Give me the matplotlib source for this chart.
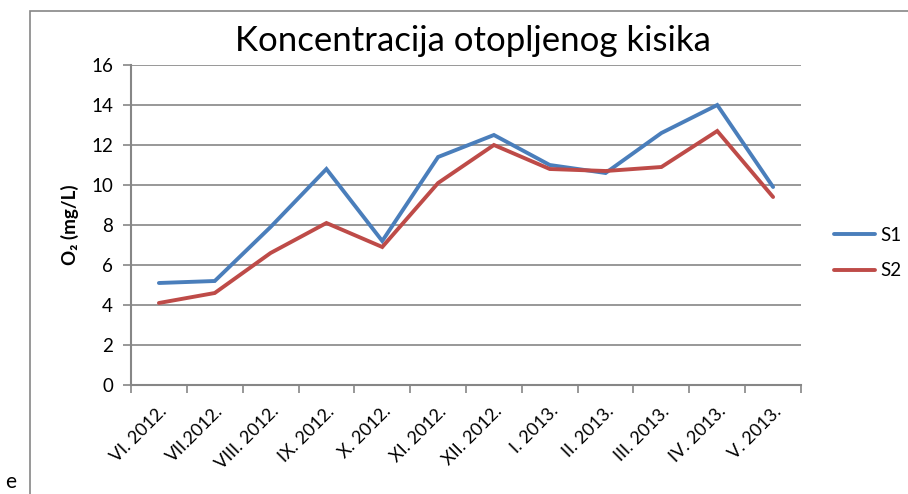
import numpy as np
import matplotlib.pyplot as plt
from matplotlib.patches import Rectangle

months = ["VI. 2012.", "VII.2012.", "VIII. 2012.", "IX. 2012.", "X. 2012.", "XI. 2012.",
          "XII. 2012.", "I. 2013.", "II. 2013.", "III. 2013.", "IV. 2013.", "V. 2013."]
s1 = [5.1, 5.2, 7.9, 10.8, 7.2, 11.4, 12.5, 11.0, 10.6, 12.6, 14.0, 9.9]
s2 = [4.1, 4.6, 6.6, 8.1, 6.9, 10.1, 12.0, 10.8, 10.7, 10.9, 12.7, 9.4]

plt.rcParams['font.family'] = ['Lato', 'DejaVu Sans']
grey = "#868686"

fig = plt.figure(figsize=(9.08, 4.94), dpi=100)
W, H = 908, 494
ax = fig.add_axes([131 / W, 1 - 385 / H, (801 - 131) / W, (385 - 65) / H])

x = np.arange(len(months))
l1, = ax.plot(x, s1, color="#4A7EBB", lw=2.8, solid_capstyle="round", solid_joinstyle="miter")
l2, = ax.plot(x, s2, color="#BE4B48", lw=2.8, solid_capstyle="round", solid_joinstyle="miter")

ax.set_xlim(-0.5, len(months) - 0.5)
ax.set_ylim(0, 16)
ax.set_yticks(range(0, 17, 2))
ax.yaxis.grid(True, color=grey, lw=1.2)
ax.set_axisbelow(True)

ax.set_xticks(np.arange(-0.5, len(months), 1.0))
ax.set_xticklabels([])
ax.set_xticks(x, minor=True)
ax.set_xticklabels(months, minor=True, rotation=45, ha="right", va="top",
                   rotation_mode="anchor", fontsize=13)
ax.tick_params(axis="x", which="major", length=6, width=1.2, color=grey, direction="out")
ax.tick_params(axis="x", which="minor", length=0, pad=13)
ax.tick_params(axis="y", length=6, width=1.2, color=grey, labelsize=13.5, pad=7)

for side in ["top", "right"]:
    ax.spines[side].set_visible(False)
for side in ["left", "bottom"]:
    ax.spines[side].set_color(grey)
    ax.spines[side].set_linewidth(1.5)

ax.set_ylabel("O₂ (mg/L)", fontsize=13.5, fontweight="bold", labelpad=9)

fig.text(473 / W, 1 - 41 / H, "Koncentracija otopljenog kisika", fontsize=25,
         ha="center", va="center")

fig.legend([l1, l2], ["S1", "S2"], loc="center left", bbox_to_anchor=(817 / W, 1 - 253 / H),
           frameon=False, fontsize=13.5, handlelength=2.2, labelspacing=1.0, handletextpad=0.3)

# chart area border (cropped at right and bottom)
fig.add_artist(Rectangle((30 / W, -0.1), 1.2, 1 - 11 / H + 0.1, transform=fig.transFigure,
                         fill=False, edgecolor=grey, lw=1.2))
fig.text(11 / W, 1 - 482 / H, "e", fontsize=15, ha="center", va="center")

fig.savefig("out.png", dpi=100)
